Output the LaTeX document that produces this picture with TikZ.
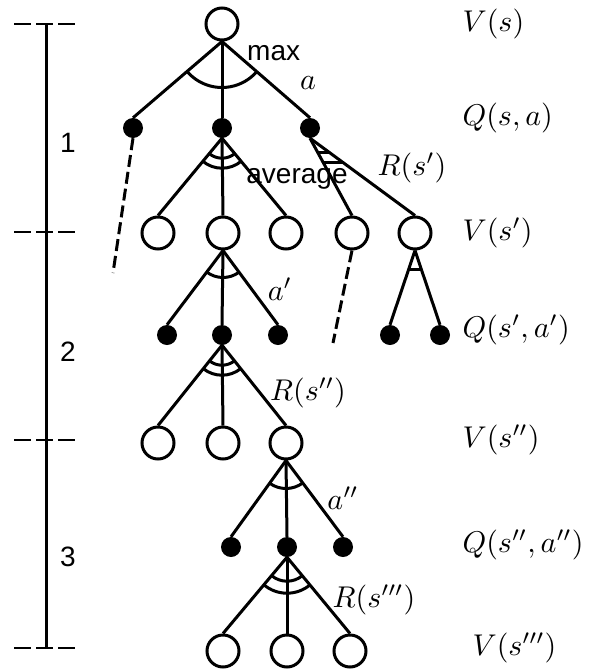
\documentclass[tikz,border=0pt]{standalone}
\usepackage{fontspec}
\newfontfamily\arialf{Liberation Sans}
\usetikzlibrary{calc}
\definecolor{inkc}{HTML}{000000}
% arc across the branches from the parent #1 down to #2 ... #3, radius #4
\newcommand{\sweep}[4]{%
  \draw[br] let \p1=(#1.south),\p2=(#2.north),\p3=(#3.north),
        \n1={atan2(\y2-\y1,\x2-\x1)},\n2={atan2(\y3-\y1,\x3-\x1)} in
        ($(\p1)+(\n1:#4pt)$) arc[start angle=\n1,end angle=\n2,radius=#4pt];}
\tikzset{
  vst/.style ={circle,draw=inkc,line width=3pt,fill=white,minimum size=32pt,inner sep=0pt},
  qdot/.style={circle,fill=inkc,minimum size=20pt,inner sep=0pt},
  br/.style  ={draw=inkc,line width=3pt},
  cut/.style ={br,dash pattern=on 12pt off 5pt},
  tck/.style ={br,line width=2.6pt,dash pattern=on 17pt off 5pt},
  mth/.style ={font=\normalsize,scale=3,transform shape,text=inkc,inner sep=0pt},
  sf/.style  ={font=\arialf\fontsize{28}{32}\selectfont,text=inkc,inner sep=0pt},
}
\begin{document}
\begin{tikzpicture}[x=1pt,y=1pt]
\useasboundingbox (0,0) rectangle (590,-670);

% ============================ tree =====================================
\node[vst] (r0) at (222,-24) {};
\node[qdot] (q1) at (133,-128) {};
\node[qdot] (q2) at (222,-128) {};
\node[qdot] (q3) at (310,-128) {};
\foreach \n/\x in {v1/158,v2/223,v3/286,v4/352,v5/415}
  \node[vst] (\n) at (\x,-233) {};
\foreach \n/\x in {w1/167,w2/222,w3/278,w4/390,w5/440}
  \node[qdot] (\n) at (\x,-335) {};
\foreach \n/\x in {u1/158,u2/223,u3/286}
  \node[vst] (\n) at (\x,-443) {};
\foreach \n/\x in {p1/231,p2/287,p3/343}
  \node[qdot] (\n) at (\x,-547) {};
\foreach \n/\x in {t1/223,t2/287,t3/350}
  \node[vst] (\n) at (\x,-651) {};

\foreach \c in {q1,q2,q3} \draw[br] (r0.south)--(\c.north);
\foreach \c in {v1,v2,v3} \draw[br] (q2.south)--(\c.north);
\foreach \c in {v4,v5} \draw[br] (q3.south)--(\c.north);
\foreach \c in {w1,w2,w3} \draw[br] (v2.south)--(\c.north);
\foreach \c in {w4,w5} \draw[br] (v5.south)--(\c.north);
\foreach \c in {u1,u2,u3} \draw[br] (w2.south)--(\c.north);
\foreach \c in {p1,p2,p3} \draw[br] (u3.south)--(\c.north);
\foreach \c in {t1,t2,t3} \draw[br] (p2.south)--(\c.north);

\coordinate (e1) at (113,-273);
\coordinate (e2) at (333,-343);
\draw[cut] (q1.south)--(e1);
\draw[cut] (v4.south)--(e2);

\sweep{r0}{q1}{q3}{46}
\sweep{q2}{v1}{v3}{20} \sweep{q2}{v1}{v3}{30}
\sweep{v2}{w1}{w3}{27}
\sweep{w2}{u1}{u3}{20} \sweep{w2}{u1}{u3}{30}
\sweep{u3}{p1}{p3}{28}
\sweep{p2}{t1}{t3}{24} \sweep{p2}{t1}{t3}{36}
\draw[br] ($(q3.south)!.19!(v4.north)$)--($(q3.south)!.19!(v5.north)$);
\draw[br] ($(q3.south)!.32!(v4.north)$)--($(q3.south)!.32!(v5.north)$);
\draw[br] ($(v5.south)!.26!(w4.north)$)--($(v5.south)!.26!(w5.north)$);

\node[sf,anchor=base west] (lmax) at (247,-60) {max};
\node[mth] (la) at (308,-83) {$a$};
\node[sf,anchor=base] (lavg) at (297,-183) {average};
\node[mth] (lr1) at (412,-168) {$R(s')$};
\node[mth] (la1) at (280,-289) {$a'$};
\node[mth] (lr2) at (308,-393) {$R(s'')$};
\node[mth] (la2) at (343,-498) {$a''$};
\node[mth] (lr3) at (374,-600) {$R(s''')$};

% ============================ values ===================================
\node[mth,anchor=west] (nv0) at (462,-24)  {$V(s)$};
\node[mth,anchor=west] (nq0) at (462,-118) {$Q(s,a)$};
\node[mth,anchor=west] (nv1) at (462,-233) {$V(s')$};
\node[mth,anchor=west] (nq1) at (462,-330) {$Q(s',a')$};
\node[mth,anchor=west] (nv2) at (462,-440) {$V(s'')$};
\node[mth,anchor=west] (nq2) at (462,-545) {$Q(s'',a'')$};
\node[mth,anchor=west] (nv3) at (472,-648) {$V(s''')$};

% ============================ depth scale ==============================
\foreach \n/\y in {k0/24,k1/232,k2/440,k3/648} {
  \coordinate (\n) at (46,-\y);
  \draw[tck] ([xshift=-32pt]\n)--([xshift=30pt]\n);
}
\draw[br] (k0)--(k3);
\node[sf] (d1) at (68,-143) {1};
\node[sf] (d2) at (68,-352) {2};
\node[sf] (d3) at (68,-557) {3};
\end{tikzpicture}
\end{document}
